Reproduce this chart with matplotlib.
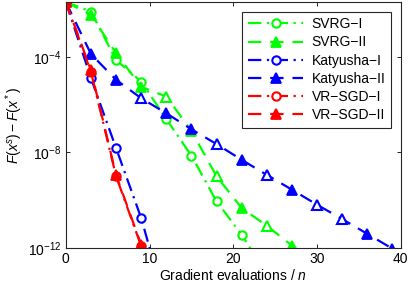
import matplotlib
matplotlib.use("Agg")
import matplotlib.pyplot as plt
from matplotlib.ticker import FixedLocator, FuncFormatter
import numpy as np

plt.rcParams['font.family'] = ['Liberation Sans', 'DejaVu Sans']
plt.rcParams['mathtext.fontset'] = 'custom'
plt.rcParams['mathtext.rm'] = 'Liberation Sans'
plt.rcParams['mathtext.it'] = 'Liberation Sans:italic'
plt.rcParams['mathtext.bf'] = 'Liberation Sans:bold'

# ---- data (log10 of objective gap) ----
svrg1_x = [0, 3, 6, 9, 12, 15, 18, 21, 24]
svrg1_y = [-1.7, -2.1, -4.13, -5.03, -6.6, -8.14, -10.05, -11.45, -13.1]
svrg2_x = [0, 3, 6, 9, 12, 15, 18, 21, 24, 27, 30]
svrg2_y = [-1.7, -2.24, -3.85, -5.25, -5.66, -7.1, -9.0, -10.33, -11.07, -11.9, -12.7]
katy1_x = [0, 3, 6, 9, 12]
katy1_y = [-1.7, -4.89, -7.82, -10.75, -14.5]
katy2_x = [0, 3, 6, 9, 12, 15, 18, 21, 24, 27, 30, 33, 36, 39]
katy2_y = [-1.7, -3.88, -4.96, -5.73, -6.36, -7.03, -7.65, -8.31, -8.94, -9.56, -10.19, -10.79, -11.41, -12.03]
vr1_x = [0, 3, 6, 9]
vr1_y = [-1.7, -4.63, -9.0, -11.92]
vr2_x = [0, 3, 6, 9]
vr2_y = [-1.7, -4.56, -8.95, -11.87]

labels = ['SVRG\u2212I', 'SVRG\u2212II', 'Katyusha\u2212I', 'Katyusha\u2212II', 'VR\u2212SGD\u2212I', 'VR\u2212SGD\u2212II']

xticks = [0, 10, 20, 30, 40]
yticks = [1e-4, 1e-8, 1e-12]

fig = plt.figure(figsize=(4.09, 2.87), dpi=100)
ax = fig.add_axes([0.161, 0.136, 0.819, 0.857])

G = (0, 1, 0)
B = (0, 0, 1)
R = (1, 0, 0)
lw = 1.6

def p(x, ylog):
    return np.array(x), 10.0 ** np.array(ylog)

def series_I(x, y, c, lab):
    xx, yy = p(x, y)
    ax.plot(xx, yy, linestyle='-.', color=c, lw=lw, marker='o', ms=6,
            mfc='white', mec=c, mew=1.5, label=lab, dashes=(6, 2.5, 1, 2.5))

def series_II(x, y, c, lab, hollow=()):
    xx, yy = p(x, y)
    filled = [i for i in range(len(xx)) if i not in hollow]
    ax.plot(xx, yy, linestyle='--', color=c, lw=lw, marker='^', ms=6.5,
            mfc=c, mec=c, mew=1.3, label=lab, markevery=filled, dashes=(6, 4))
    if hollow:
        hi = list(hollow)
        ax.plot(xx[hi], yy[hi], linestyle='none', marker='^', ms=6.5,
                mfc='white', mec=c, mew=1.5)

series_I(svrg1_x, svrg1_y, G, labels[0])
series_II(svrg2_x, svrg2_y, G, labels[1], hollow=(4, 6, 8))
series_I(katy1_x, katy1_y, B, labels[2])
series_II(katy2_x, katy2_y, B, labels[3], hollow=(3, 6, 8, 10, 11))
series_I(vr1_x, vr1_y, R, labels[4])
series_II(vr2_x, vr2_y, R, labels[5])

ax.set_yscale('log')
ax.set_xlim(0, 40)
ax.set_ylim(1e-12, 10 ** -1.7)
ax.xaxis.set_major_locator(FixedLocator(xticks))
ax.yaxis.set_major_locator(FixedLocator(yticks))
ax.yaxis.set_minor_locator(FixedLocator([]))
ax.yaxis.set_major_formatter(FuncFormatter(lambda v, pos: r'$10^{%d}$' % int(round(np.log10(v)))))
ax.tick_params(direction='in', top=True, right=True, labelsize=10, length=3, width=0.6, pad=3)
ax.tick_params(which='minor', length=0)
for s in ax.spines.values():
    s.set_linewidth(0.8)
    s.set_color('#262626')

ax.set_xlabel(r'Gradient evaluations / $n$', fontsize=10, labelpad=1)
ax.set_ylabel(r'$F(x^s) - F(x^*)$', fontsize=10, labelpad=2)

leg = ax.legend(loc='upper right', fontsize=10, frameon=True, fancybox=False,
                edgecolor='#262626', handlelength=4.0, handletextpad=0.6,
                labelspacing=0.3, borderpad=0.4, borderaxespad=0.7, framealpha=1)
leg.get_frame().set_linewidth(0.8)

fig.savefig('out.png', dpi=100)
